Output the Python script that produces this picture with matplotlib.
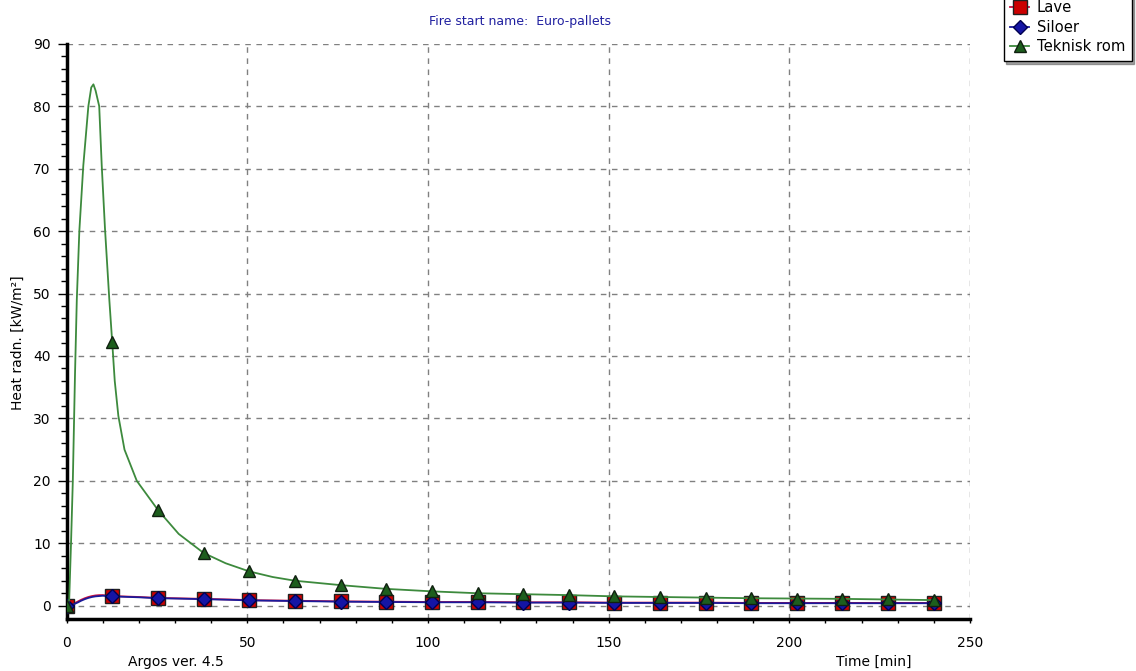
import matplotlib.pyplot as plt
import numpy as np

plt.rcParams['font.family'] = ['DejaVu Sans']

# marker times (min)
mark_t = [0, 12.6, 25.3, 37.9, 50.5, 63.2, 75.8, 88.4, 101.1, 113.7, 126.3,
          138.9, 151.6, 164.2, 176.8, 189.5, 202.1, 214.7, 227.4, 240]

# Lave / Siloer
t_low = [0, 1, 2, 3, 4, 5, 6, 7, 8, 9, 10, 11,
         12.6, 15, 20, 25.3, 30, 37.9, 45, 50.5,
         63.2, 75.8, 88.4, 101.1, 113.7, 126.3, 138.9, 151.6, 164.2, 176.8,
         189.5, 202.1, 214.7, 227.4, 240]
lave = [0, 0.1, 0.35, 0.65, 0.95, 1.2, 1.4, 1.55, 1.65, 1.7, 1.7, 1.65,
        1.55, 1.5, 1.4, 1.25, 1.2, 1.1, 1.0, 0.9,
        0.8, 0.7, 0.65, 0.6, 0.6, 0.55, 0.55, 0.5, 0.5, 0.5,
        0.45, 0.45, 0.45, 0.45, 0.45]
siloer = [0, 0.05, 0.25, 0.5, 0.8, 1.05, 1.25, 1.4, 1.5, 1.55, 1.6, 1.55,
          1.5, 1.45, 1.35, 1.2, 1.15, 1.05, 0.95, 0.85,
          0.75, 0.65, 0.6, 0.55, 0.55, 0.5, 0.5, 0.45, 0.45, 0.45,
          0.4, 0.4, 0.4, 0.4, 0.4]

# Teknisk rom
t_tek = [0, 0.7, 1.2, 1.7, 2.3, 2.8, 3.5, 4.6, 6.0, 6.8, 7.4, 8.0, 9.0, 9.7,
         10.6, 11.8, 12.6, 13.3, 14.3, 16.0, 19.4, 25.3, 31.0, 37.9, 44.0,
         50.5, 57.0, 63.2, 75.8, 88.4, 101.1, 113.7, 126.3, 138.9, 151.6,
         164.2, 176.8, 189.5, 202.1, 214.7, 227.4, 240]
tek = [0, 1, 10, 20, 37, 49, 60, 70.5, 80, 83, 83.5, 82.5, 80, 70.5,
       60.4, 49, 42.2, 36, 30.4, 25, 20, 15.3, 11.5, 8.45, 6.8,
       5.5, 4.6, 4.0, 3.3, 2.7, 2.3, 2.0, 1.85, 1.7, 1.5,
       1.4, 1.3, 1.2, 1.15, 1.1, 1.0, 0.9]

fig = plt.figure(figsize=(11.36, 6.71), dpi=100)
ax = fig.add_axes([0.0587, 0.0768, 0.7952, 0.858])

me_low = list(np.where(np.isin(t_low, mark_t))[0])
me_tek = list(np.where(np.isin(t_tek, mark_t))[0])

ax.plot(t_low, lave, color='#cc1040', lw=1.3, marker='s', ms=10,
        mfc='#cc0000', mec='#202020', mew=1, markevery=me_low, label='Lave', zorder=3)
ax.plot(t_low, siloer, color='#1a1a9a', lw=1.3, marker='D', ms=7,
        mfc='#1515a5', mec='#000050', mew=1, markevery=me_low, label='Siloer', zorder=4)
ax.plot(t_tek, tek, color='#3d8a3d', lw=1.3, marker='^', ms=9,
        mfc='#1d5e1d', mec='#102010', mew=1, markevery=me_tek, label='Teknisk rom', zorder=5)

ax.set_xlim(0, 250)
ax.set_ylim(-2.2, 90)
ax.set_xticks(np.arange(0, 251, 50))
ax.set_xticks(np.arange(0, 251, 10), minor=True)
ax.set_yticks(np.arange(0, 91, 10))
ax.set_yticks(np.arange(0, 91, 2), minor=True)
ax.grid(True, which='major', color='#808080', linestyle=(0, (4, 4)), lw=1)

for s in ['top', 'right']:
    ax.spines[s].set_visible(False)
for s in ['left', 'bottom']:
    ax.spines[s].set_linewidth(2.5)
    ax.spines[s].set_color('black')

ax.tick_params(which='both', direction='out', width=1, labelsize=10)
ax.tick_params(axis='y', which='major', length=6.5, pad=5)
ax.tick_params(axis='y', which='minor', length=4.3)
ax.tick_params(axis='x', which='both', length=3, pad=9)

fig.text(0.458, 0.968, 'Fire start name:  Euro-pallets', color='#2020a0',
         fontsize=9, ha='center', va='center')
fig.text(0.016, 0.49, 'Heat radn. [kW/m²]', rotation=90, fontsize=10,
         ha='center', va='center')
fig.text(0.155, 0.0134, 'Argos ver. 4.5', fontsize=10, ha='center', va='center')
fig.text(0.7694, 0.0134, 'Time [min]', fontsize=10, ha='center', va='center')

leg = fig.legend(loc='lower right', bbox_to_anchor=(0.9962, 0.9095), fontsize=10.6,
                 frameon=True, fancybox=False, shadow=True, edgecolor='black',
                 framealpha=1, handlelength=1.3, handletextpad=0.5,
                 labelspacing=0.3, borderpad=0.45, borderaxespad=0)
leg.get_frame().set_linewidth(1)

fig.savefig('out.png', dpi=100)
